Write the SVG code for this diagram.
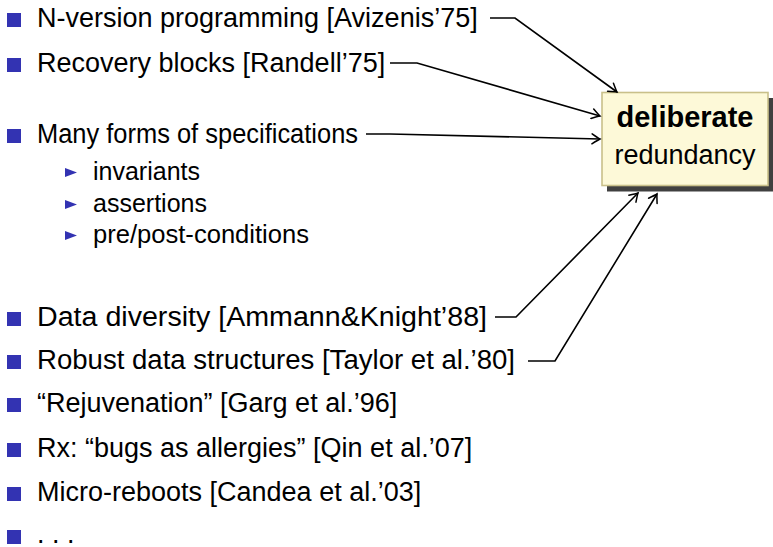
<svg xmlns="http://www.w3.org/2000/svg" width="773" height="547" viewBox="0 0 773 547">
<style>
.t{font-family:"Liberation Sans",Arial,sans-serif;font-size:27px;fill:#000}
.s{font-family:"Liberation Sans",Arial,sans-serif;font-size:25px;fill:#000}
.b{fill:#3333b2}
.c{fill:none;stroke:#000;stroke-width:1.6}
</style>
<defs>
<marker id="arr" viewBox="-10 -6 12 12" refX="0" refY="0" markerWidth="12" markerHeight="12" markerUnits="userSpaceOnUse" orient="auto">
<path d="M-8,-5 Q-2,-1 0,0 Q-2,1 -8,5" fill="none" stroke="#000" stroke-width="1.5" stroke-linecap="round"/>
</marker>
</defs>
<rect width="773" height="547" fill="#fff"/>
<g id="items">
<g id="item1"><rect class="b" x="7" y="13" width="14" height="14"/><text class="t" x="37" y="27">N-version programming [Avizenis’75]</text></g>
<g id="item2"><rect class="b" x="7" y="58" width="14" height="14"/><text class="t" x="37" y="72">Recovery blocks [Randell’75]</text></g>
<g id="item3"><rect class="b" x="7" y="129" width="14" height="14"/><text class="t" x="37" y="143" textLength="321" lengthAdjust="spacingAndGlyphs">Many forms of specifications</text>
<path class="b" d="M65,168 L77,172.5 L65,177 Z"/><text class="s" x="93" y="180">invariants</text>
<path class="b" d="M65,200 L77,204.5 L65,209 Z"/><text class="s" x="93" y="212">assertions</text>
<path class="b" d="M65,231 L77,235.5 L65,240 Z"/><text class="s" x="93" y="243" textLength="216" lengthAdjust="spacingAndGlyphs">pre/post-conditions</text>
</g>
<g id="item4"><rect class="b" x="7" y="312" width="14" height="14"/><text class="t" x="37" y="326" textLength="450" lengthAdjust="spacingAndGlyphs">Data diversity [Ammann&amp;Knight’88]</text></g>
<g id="item5"><rect class="b" x="7" y="355" width="14" height="14"/><text class="t" x="37" y="369" textLength="478" lengthAdjust="spacingAndGlyphs">Robust data structures [Taylor et al.’80]</text></g>
<g id="item6"><rect class="b" x="7" y="398" width="14" height="14"/><text class="t" x="37" y="412">“Rejuvenation” [Garg et al.’96]</text></g>
<g id="item7"><rect class="b" x="7" y="443" width="14" height="14"/><text class="t" x="37" y="457">Rx: “bugs as allergies” [Qin et al.’07]</text></g>
<g id="item8"><rect class="b" x="7" y="487" width="14" height="14"/><text class="t" x="37" y="501">Micro-reboots [Candea et al.’03]</text></g>
<g id="item9"><rect class="b" x="7" y="530" width="14" height="14"/><text class="t" x="37" y="543">. . .</text></g>
</g>
<g id="box">
<rect x="607" y="98" width="166" height="93.5" fill="#404040"/>
<rect x="602" y="92.5" width="166" height="93" fill="#fdf9d8" stroke="#c9c08a" stroke-width="1.6"/>
<text x="685" y="127" text-anchor="middle" style="font-family:'Liberation Sans',Arial,sans-serif;font-size:29px;font-weight:bold">deliberate</text>
<text x="685" y="164" text-anchor="middle" class="t">redundancy</text>
</g>
<g id="connectors">
<path class="c" d="M490,18 H515 L617,92" marker-end="url(#arr)"/>
<path class="c" d="M390,63 H417 L600,116" marker-end="url(#arr)"/>
<path class="c" d="M366,134 H390 L600,139" marker-end="url(#arr)"/>
<path class="c" d="M495,317 H516 L638,193" marker-end="url(#arr)"/>
<path class="c" d="M528,361 H555 L657,194" marker-end="url(#arr)"/>
</g>
</svg>
